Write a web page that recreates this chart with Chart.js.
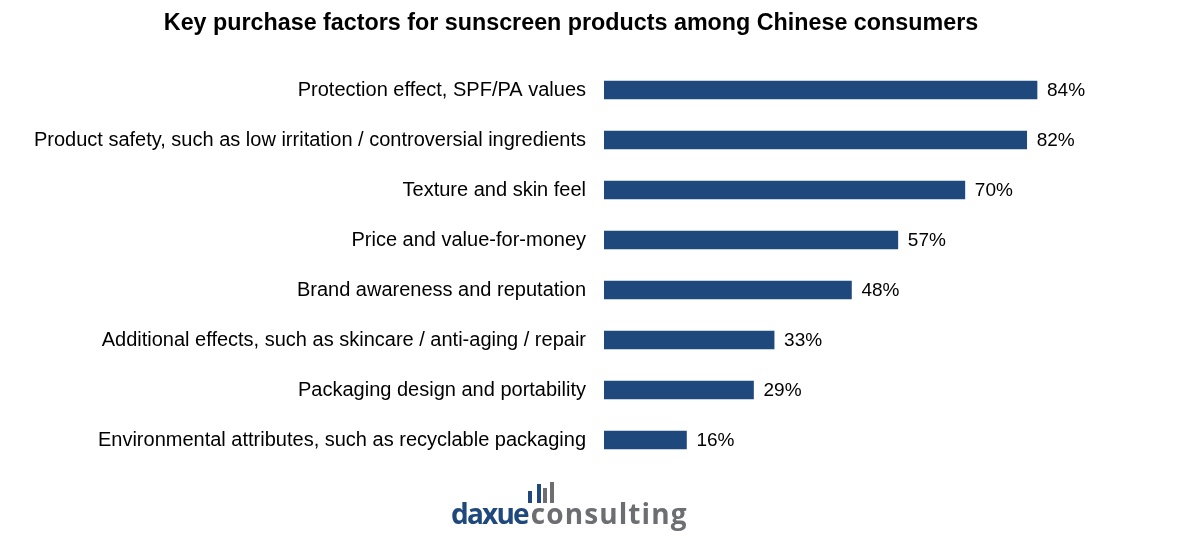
<!DOCTYPE html>
<html>
<head>
<meta charset="utf-8">
<script src="https://cdn.jsdelivr.net/npm/chart.js@4.4.0/dist/chart.umd.min.js"></script>
<style>
  html, body { margin: 0; padding: 0; background: #fff; }
  #wrap { position: relative; width: 1187px; height: 542px; overflow: hidden; }
  #chart { position: absolute; left: 0; top: 0; }
  #title {
    position: absolute; left: 0; top: 9px; width: 1142px; text-align: center;
    font: bold 23.3px "Liberation Sans", Arial, sans-serif; color: #000; line-height: 26px;
  }
  #logo { position: absolute; left: 449px; top: 478px; width: 250px; height: 60px; }
  #logo .txt {
    position: absolute; left: 2px; top: 16px; white-space: nowrap; line-height: 28px;
    font: 700 28px "Open Sans", sans-serif;
  }
  #logo .b { color: #1F497D; letter-spacing: -1.8px; }
  #logo .g { color: #6D6E71; letter-spacing: 1.1px; margin-left: 3px; }
  #logo i { position: absolute; display: block; width: 4px; }
</style>
</head>
<body>
<div id="wrap">
  <canvas id="chart" width="1187" height="542"></canvas>
  <div id="title">Key purchase factors for sunscreen products among Chinese consumers</div>
  <div id="logo">
    <i style="left:79px; top:13px; height:12px; background:#1F497D"></i>
    <i style="left:88px; top:6px; height:19px; background:#1F497D"></i>
    <i style="left:94px; top:10px; height:15px; background:#6D6E71"></i>
    <i style="left:101px; top:4px; height:21px; background:#6D6E71"></i>
    <div class="txt"><span class="b">daxue</span><span class="g">consulting</span></div>
  </div>
</div>
<script>
// factors, top to bottom
const factors = [
  'Protection effect, SPF/PA values',
  'Product safety, such as low irritation / controversial ingredients',
  'Texture and skin feel',
  'Price and value-for-money',
  'Brand awareness and reputation',
  'Additional effects, such as skincare / anti-aging / repair',
  'Packaging design and portability',
  'Environmental attributes, such as recyclable packaging'
];
const shares = [84, 82, 70, 57, 48, 33, 29, 16];

const barColor = '#1F497D';

// draw the % value just past the end of each bar
const valueLabels = {
  id: 'valueLabels',
  afterDatasetsDraw(chart) {
    const ctx = chart.ctx;
    const meta = chart.getDatasetMeta(0);
    ctx.save();
    ctx.font = '19px "Liberation Sans", Arial, sans-serif';
    ctx.fillStyle = '#000';
    ctx.textAlign = 'left';
    ctx.textBaseline = 'middle';
    meta.data.forEach((bar, i) => {
      ctx.fillText(shares[i] + '%', bar.x + 10, bar.y + 1);
    });
    ctx.restore();
  }
};

new Chart(document.getElementById('chart'), {
  type: 'bar',
  data: {
    labels: factors,
    datasets: [{
      data: shares,
      backgroundColor: barColor,
      barThickness: 18
    }]
  },
  options: {
    indexAxis: 'y',
    responsive: false,
    animation: false,
    layout: { padding: { left: 0, right: 67.5, top: 65, bottom: 77 } },
    plugins: {
      legend: { display: false },
      tooltip: { enabled: false }
    },
    scales: {
      x: { display: false, min: 0, max: 100 },
      y: {
        afterFit(scale) { scale.width = 604; },
        grid: { display: false, drawTicks: false },
        border: { display: false },
        ticks: {
          padding: 18,
          color: '#000',
          font: { size: 20, family: '"Liberation Sans", Arial, sans-serif' }
        }
      }
    }
  },
  plugins: [valueLabels]
});
</script>
</body>
</html>
